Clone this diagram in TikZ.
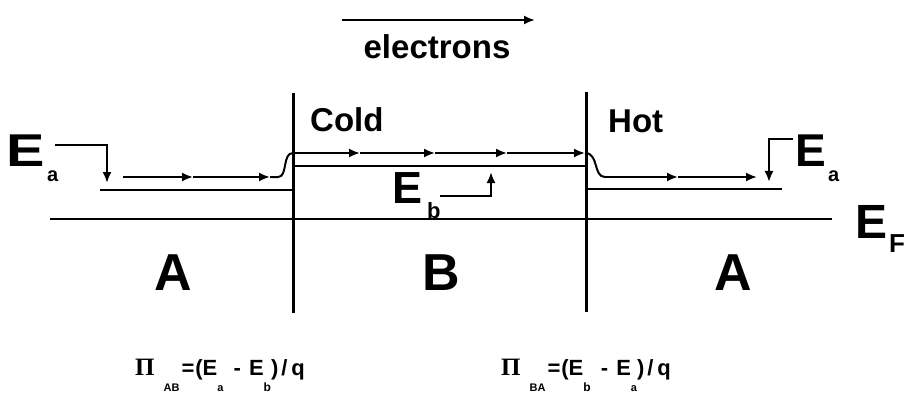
\documentclass[tikz,border=0pt]{standalone}
\usepackage{fontspec}
\setmainfont{Liberation Sans}
\newfontfamily\pifont{Liberation Serif}
\usetikzlibrary{arrows.meta}
\begin{document}
\begin{tikzpicture}[x=1pt,y=-1pt,
  wall/.style={line width=3pt},
  level/.style={line width=2.2pt},
  path/.style={line width=2pt},
  tipped/.style={-{Latex[length=11pt,width=9pt]}},
  big/.style={font=\bfseries\fontsize{#1}{#1}\selectfont, inner sep=0pt},
  sub/.style={font=\bfseries\fontsize{#1}{#1}\selectfont, inner sep=0pt, anchor=base west},
  formula/.style={font=\bfseries\fontsize{22}{22}\selectfont, inner sep=0pt, anchor=base west}
]
\useasboundingbox (0,0) rectangle (905,401);

% coordinates
\coordinate (wl top) at (293,93);  \coordinate (wl bot) at (293,313);
\coordinate (wr top) at (586,92);  \coordinate (wr bot) at (586,312);
\coordinate (ef l) at (50,219);    \coordinate (ef r) at (832,219);
\coordinate (la l) at (100,190);   \coordinate (la r) at (293,190);
\coordinate (lb l) at (293,166);   \coordinate (lb r) at (586,166);
\coordinate (ra l) at (586,189);   \coordinate (ra r) at (782,189);

% walls and levels
\draw[wall] (wl top) -- (wl bot);
\draw[wall] (wr top) -- (wr bot);
\draw[level] (ef l) -- (ef r);
\draw[level] (la l) -- (la r);
\draw[level] (lb l) -- (lb r);
\draw[level] (ra l) -- (ra r);

% electron path
\coordinate (p0) at (123,177);
\coordinate (p1) at (193,177);
\coordinate (p2) at (270,177);
\coordinate (q0) at (293,153);
\coordinate (q1) at (360,153);
\coordinate (q2) at (435,153);
\coordinate (q3) at (507,153);
\coordinate (q4) at (585,153);
\coordinate (r0) at (605,177);
\coordinate (r1) at (678,177);
\coordinate (r2) at (757,177);
\draw[path,tipped] (p0) -- (p1);
\draw[path,tipped] (p1) -- (p2);
\draw[path] (p2) -- (278,177) .. controls (288,177) and (282,153) .. (q0);
\draw[path,tipped] (q0) -- (q1);
\draw[path,tipped] (q1) -- (q2);
\draw[path,tipped] (q2) -- (q3);
\draw[path,tipped] (q3) -- (q4);
\draw[path] (q4) .. controls (599,153) and (593,177) .. (r0);
\draw[path,tipped] (r0) -- (r1);
\draw[path,tipped] (r1) -- (r2);

% top arrow and label
\coordinate (ta l) at (342,20); \coordinate (ta r) at (535,20);
\draw[path,tipped] (ta l) -- (ta r);
\node[big=33, anchor=base] (electrons) at (437,59) {electrons};

\node[big=33, anchor=base west] (cold) at (310,132) {Cold};
\node[big=33, anchor=base west] (hot) at (608,133) {Hot};

\node[big=52, anchor=base] (A1) at (173,290) {A};
\node[big=52, anchor=base] (B) at (441,290) {B};
\node[big=52, anchor=base] (A2) at (733,290) {A};

% E labels
\node[big=46, anchor=base west, xscale=1.25] (EaL) at (6,167) {E};
\node[sub=20] (EaLs) at (47,181) {a};
\node[big=46, anchor=base west] (EaR) at (795,167) {E};
\node[sub=20] (EaRs) at (828,181) {a};
\node[big=45, anchor=base west] (Eb) at (392,203) {E};
\node[sub=22] (Ebs) at (427,218) {b};
\node[big=48, anchor=base west] (EF) at (855,238) {E};
\node[sub=26] (EFs) at (889,252) {F};

% E arrows
\coordinate (eal a) at (55,145); \coordinate (eal b) at (107,145); \coordinate (eal c) at (107,183);
\draw[path,tipped] (eal a) -- (eal b) -- (eal c);
\coordinate (ear a) at (793,139); \coordinate (ear b) at (769,139); \coordinate (ear c) at (769,182);
\draw[path,tipped] (ear a) -- (ear b) -- (ear c);
\coordinate (eb a) at (440,196); \coordinate (eb b) at (491,196); \coordinate (eb c) at (491,172);
\draw[path,tipped] (eb a) -- (eb b) -- (eb c);

% formulas
\newcommand\lowsub[2]{\raisebox{-16pt}{\fontsize{#1}{#1}\selectfont #2}}
\node[formula] (piAB) at (135,375) {{\pifont\fontsize{25}{25}\selectfont Π}\hspace{9pt}\lowsub{11}{AB}\hspace{2pt}=\hspace{1pt}(E\lowsub{11}{a}\hspace{4pt} - \hspace{2pt}E\lowsub{12}{b})\hspace{3pt}/\hspace{4pt}q};
\node[formula] (piBA) at (501,375) {{\pifont\fontsize{25}{25}\selectfont Π}\hspace{9pt}\lowsub{11}{BA}\hspace{2pt}=\hspace{1pt}(E\lowsub{12}{b}\hspace{4pt} - \hspace{2pt}E\lowsub{11}{a})\hspace{3pt}/\hspace{4pt}q};
\end{tikzpicture}
\end{document}
